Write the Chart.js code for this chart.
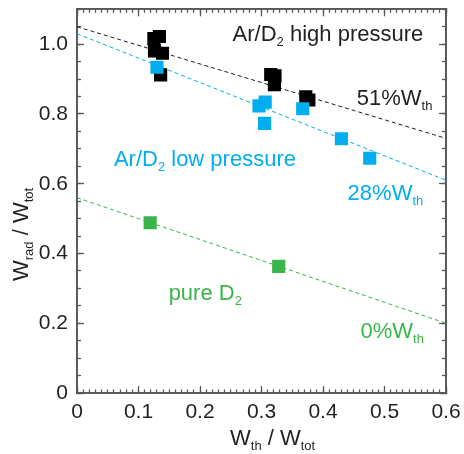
<!DOCTYPE html>
<html>
<head>
<meta charset="utf-8">
<script src="https://cdn.jsdelivr.net/npm/chart.js@4/dist/chart.umd.min.js"></script>
<style>
  body { margin: 0; background: #fff; }
  canvas { display: block; }
</style>
</head>
<body>
<canvas id="chart" width="464" height="454"></canvas>
<script>
const highX = [0.125, 0.134, 0.126, 0.139, 0.136, 0.315, 0.322, 0.321, 0.372, 0.377];
const highY = [1.016, 1.022, 0.981, 0.974, 0.912, 0.913, 0.909, 0.884, 0.849, 0.840];
const lowX = [0.130, 0.296, 0.306, 0.305, 0.367, 0.430, 0.476];
const lowY = [0.934, 0.823, 0.834, 0.773, 0.815, 0.729, 0.673];
const pureX = [0.119, 0.328];
const pureY = [0.488, 0.363];

// dashed guide lines (end points at x = 0 and x = 0.6)
const fitX = [0, 0.6];
const fitHigh = [1.05, 0.73];
const fitLow = [1.03, 0.61];
const fitPure = [0.56, 0.20];

const xTickLabels = ['0', '0.1', '0.2', '0.3', '0.4', '0.5', '0.6'];
const yTickLabels = ['0', '0.2', '0.4', '0.6', '0.8', '1.0'];

const BLACK = '#000000';
const BLUE = '#00aeef';
const GREEN = '#39b54a';
const TEXT = '#231f20';
const FRAME = '#58595b';
const FONT = '"Liberation Sans", Arial, sans-serif';

const pts = (xs, ys) => xs.map((x, i) => ({ x: x, y: ys[i] }));

// label text: [text, isSubscript]
const notes = [
  { x: 0.253, y: 1.008, color: TEXT, parts: [['Ar/D', 0], ['2', 1], [' high pressure', 0]] },
  { x: 0.455, y: 0.827, color: TEXT, parts: [['51%W', 0], ['th', 1]] },
  { x: 0.060, y: 0.651, color: BLUE, parts: [['Ar/D', 0], ['2', 1], [' low pressure', 0]] },
  { x: 0.440, y: 0.554, color: BLUE, parts: [['28%W', 0], ['th', 1]] },
  { x: 0.149, y: 0.267, color: GREEN, parts: [['pure D', 0], ['2', 1]] },
  { x: 0.461, y: 0.157, color: GREEN, parts: [['0%W', 0], ['th', 1]] }
];

function drawParts(ctx, parts, x, y, color) {
  ctx.fillStyle = color;
  ctx.textBaseline = 'alphabetic';
  ctx.textAlign = 'left';
  parts.forEach(p => {
    ctx.font = p[1] ? '13px ' + FONT : '22px ' + FONT;
    const dy = p[1] ? 5 : 0;
    ctx.fillText(p[0], x, y + dy);
    x += ctx.measureText(p[0]).width;
  });
}

const textPlugin = {
  id: 'texts',
  afterDraw(chart) {
    const ctx = chart.ctx;
    const xs = chart.scales.x, ys = chart.scales.y;
    ctx.save();
    notes.forEach(n => {
      drawParts(ctx, n.parts, xs.getPixelForValue(n.x), ys.getPixelForValue(n.y), n.color);
    });
    // axis titles
    drawParts(ctx, [['W', 0], ['th', 1], [' / W', 0], ['tot', 1]], 230, 445, TEXT);
    ctx.translate(28, 281);
    ctx.rotate(-Math.PI / 2);
    drawParts(ctx, [['W', 0], ['rad', 1], [' / W', 0], ['tot', 1]], 0, 0, TEXT);
    ctx.restore();
  }
};

function tickAxis(position, step, len, weight, size, showLabels, labels) {
  const horizontal = position === 'top' || position === 'bottom';
  return {
    type: 'linear',
    position: position,
    weight: weight,
    min: 0,
    max: horizontal ? 0.6 : 1.1,
    grid: {
      drawOnChartArea: false,
      drawTicks: true,
      tickLength: -len,
      tickColor: FRAME,
      tickWidth: 1.3
    },
    border: { display: true, color: FRAME, width: 1.8 },
    ticks: {
      display: showLabels,
      stepSize: step,
      maxTicksLimit: 100,
      includeBounds: false,
      autoSkip: false,
      maxRotation: 0,
      color: TEXT,
      font: { family: FONT, size: 21 },
      padding: horizontal ? 14 : 16,
      callback: (v) => {
        const i = Math.round(v / step);
        return labels ? labels[i] : '';
      }
    },
    afterFit(s) {
      if (horizontal) s.height = size; else s.width = size;
      s.paddingLeft = 0; s.paddingRight = 0; s.paddingTop = 0; s.paddingBottom = 0;
    }
  };
}

new Chart(document.getElementById('chart'), {
  type: 'scatter',
  data: {
    datasets: [
      { data: pts(lowX, lowY), backgroundColor: BLUE, borderWidth: 0, pointStyle: 'rect', pointRadius: 9.3, order: 0 },
      { data: pts(highX, highY), backgroundColor: BLACK, borderWidth: 0, pointStyle: 'rect', pointRadius: 9.3, order: 1 },
      { data: pts(pureX, pureY), backgroundColor: GREEN, borderWidth: 0, pointStyle: 'rect', pointRadius: 9.3, order: 1 },
      { data: pts(fitX, fitHigh), showLine: true, borderColor: '#231f20', borderWidth: 1, borderDash: [4, 3], pointRadius: 0, order: 2 },
      { data: pts(fitX, fitLow), showLine: true, borderColor: BLUE, borderWidth: 1, borderDash: [4, 3], pointRadius: 0, order: 2 },
      { data: pts(fitX, fitPure), showLine: true, borderColor: GREEN, borderWidth: 1, borderDash: [4, 3], pointRadius: 0, order: 2 }
    ]
  },
  options: {
    responsive: false,
    animation: false,
    devicePixelRatio: 1,
    layout: { padding: { top: 5, right: 18, left: 0, bottom: 0 } },
    plugins: { legend: { display: false }, tooltip: { enabled: false } },
    scales: {
      x: tickAxis('bottom', 0.1, 7, 1, 61, true, xTickLabels),
      xMinor: tickAxis('bottom', 0.01, 3.5, 0, 0, false, null),
      xTop: tickAxis('top', 0.1, 7, 0, 0, false, null),
      xTopMinor: tickAxis('top', 0.01, 3.5, 1, 0, false, null),
      y: tickAxis('left', 0.2, 7, 1, 77, true, yTickLabels),
      yMinor: tickAxis('left', 0.05, 4, 0, 0, false, null),
      yRight: tickAxis('right', 0.2, 7, 0, 0, false, null),
      yRightMinor: tickAxis('right', 0.05, 4, 1, 0, false, null)
    }
  },
  plugins: [textPlugin]
});
</script>
</body>
</html>
